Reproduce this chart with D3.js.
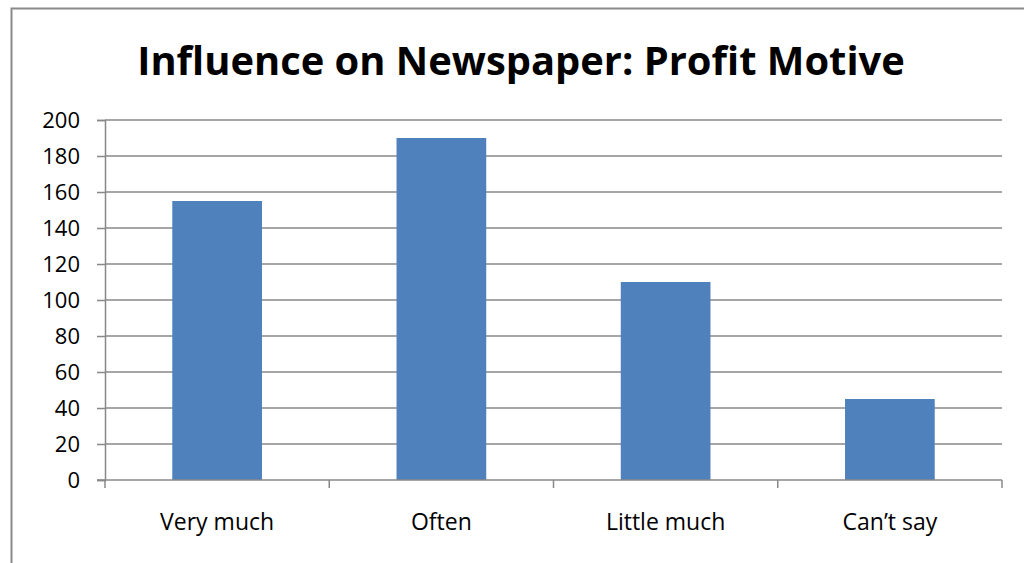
<!DOCTYPE html>
<html>
<head>
<meta charset="utf-8">
<script src="https://cdn.jsdelivr.net/npm/d3@7"></script>
<style>
  html, body { margin: 0; padding: 0; background: #fff; }
  svg { display: block; }
</style>
</head>
<body>
<script>
const categories = ["Very much", "Often", "Little much", "Can\u2019t say"];
const values = [155, 190, 110, 45];
const yTicks = [0, 20, 40, 60, 80, 100, 120, 140, 160, 180, 200];
const titleText = "Influence on Newspaper: Profit Motive";

const W = 1024, H = 563;
const plot = { left: 105, right: 1002, top: 120, bottom: 480 };
const font = "'Open Sans', 'Noto Sans', sans-serif";
const gridColor = "#888888";

const svg = d3.select("body").append("svg").attr("width", W).attr("height", H);

// chart frame
svg.append("rect")
  .attr("x", 11.5).attr("y", 8.5)
  .attr("width", 1030).attr("height", 600)
  .attr("fill", "none").attr("stroke", "#8a8a8a").attr("stroke-width", 2);

// title, sized to span its box
const title = svg.append("text")
  .attr("x", 521).attr("y", 75)
  .attr("text-anchor", "middle")
  .attr("font-family", font).attr("font-weight", "bold")
  .attr("font-size", 40).attr("fill", "#000")
  .text(titleText);
const tw = title.node().getComputedTextLength();
title.attr("font-size", 40 * 768 / tw);

const x = d3.scaleBand().domain(categories)
  .range([plot.left, plot.right])
  .paddingInner(0.6).paddingOuter(0.3);
const y = d3.scaleLinear().domain([0, 200]).range([plot.bottom, plot.top]);

// horizontal gridlines
svg.append("g").selectAll("line").data(yTicks.filter(d => d > 0)).join("line")
  .attr("x1", plot.left).attr("x2", plot.right)
  .attr("y1", d => y(d)).attr("y2", d => y(d))
  .attr("stroke", gridColor).attr("stroke-width", 1.5);

// bars
svg.append("g").selectAll("rect").data(values).join("rect")
  .attr("x", (d, i) => x(categories[i]))
  .attr("width", x.bandwidth())
  .attr("y", d => y(d))
  .attr("height", d => y(0) - y(d))
  .attr("fill", "#4F81BD");

// y axis
const yAxis = svg.append("g")
  .attr("transform", `translate(${plot.left},0)`)
  .call(d3.axisLeft(y).tickValues(yTicks).tickSize(8).tickPadding(17));
yAxis.select(".domain").attr("stroke", gridColor).attr("stroke-width", 1.5);
yAxis.selectAll(".tick line").attr("stroke", gridColor).attr("stroke-width", 1.5);
yAxis.selectAll(".tick text")
  .attr("font-family", font).attr("font-size", 22).attr("fill", "#000");

// x axis: baseline with ticks at category boundaries
const xAxis = svg.append("g").attr("transform", `translate(0,${plot.bottom})`);
xAxis.append("line")
  .attr("x1", plot.left - 8).attr("x2", plot.right)
  .attr("stroke", gridColor).attr("stroke-width", 1.5);
const edges = [plot.left].concat(
  categories.slice(1).map(c => x(c) - (x.step() - x.bandwidth()) / 2),
  [plot.right]);
xAxis.selectAll("line.tk").data(edges).join("line").attr("class", "tk")
  .attr("x1", d => d).attr("x2", d => d)
  .attr("y1", 0).attr("y2", 8)
  .attr("stroke", gridColor).attr("stroke-width", 1.5);
xAxis.selectAll("text").data(categories).join("text")
  .attr("x", d => x(d) + x.bandwidth() / 2)
  .attr("y", 50)
  .attr("text-anchor", "middle")
  .attr("font-family", font).attr("font-size", 23).attr("fill", "#000")
  .text(d => d);
</script>
</body>
</html>
